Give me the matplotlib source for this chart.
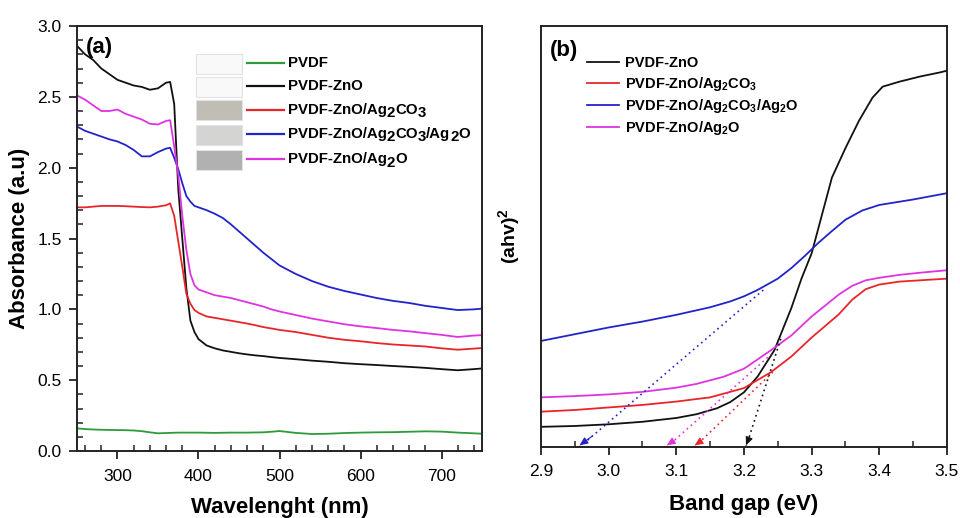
import re
import matplotlib
matplotlib.use("Agg")
import matplotlib.pyplot as plt
from matplotlib.patches import Rectangle
from matplotlib.lines import Line2D
from matplotlib.ticker import MultipleLocator

plt.rcParams['font.family'] = ['Liberation Sans', 'DejaVu Sans']
plt.rcParams['mathtext.fontset'] = 'custom'
plt.rcParams['mathtext.rm'] = 'Liberation Sans:bold'
plt.rcParams['mathtext.it'] = 'Liberation Sans:bold'
plt.rcParams['mathtext.bf'] = 'Liberation Sans:bold'
plt.rcParams['mathtext.default'] = 'rm'

# ---------------- Panel (a) data: UV-vis absorbance ----------------
wl = [250, 260, 270, 280, 290, 300, 310, 320, 330, 340, 350, 360, 365, 370, 375,
      380, 385, 390, 395, 400, 410, 420, 430, 440, 450, 460, 470, 480, 490, 500,
      520, 540, 560, 580, 600, 620, 640, 660, 680, 700, 720, 740, 750]

abs_pvdf = [0.160, 0.155, 0.152, 0.150, 0.149, 0.148, 0.147, 0.145, 0.140, 0.132, 0.125, 0.127, 0.128, 0.129, 0.130,
            0.130, 0.130, 0.130, 0.130, 0.130, 0.129, 0.128, 0.129, 0.130, 0.130, 0.130, 0.131, 0.132, 0.136, 0.141,
            0.128, 0.120, 0.122, 0.127, 0.130, 0.132, 0.133, 0.136, 0.139, 0.137, 0.130, 0.125, 0.122]
abs_zno = [2.86, 2.80, 2.76, 2.70, 2.66, 2.62, 2.60, 2.58, 2.57, 2.55, 2.56, 2.60, 2.605, 2.45, 1.85,
           1.50, 1.15, 0.92, 0.84, 0.79, 0.745, 0.725, 0.710, 0.700, 0.690, 0.682, 0.675, 0.670, 0.663, 0.657,
           0.648, 0.638, 0.630, 0.620, 0.613, 0.607, 0.600, 0.594, 0.587, 0.578, 0.570, 0.578, 0.583]
abs_zno_ag2co3 = [1.72, 1.72, 1.725, 1.73, 1.73, 1.73, 1.728, 1.725, 1.722, 1.72, 1.725, 1.735, 1.748, 1.66, 1.48,
                  1.30, 1.11, 1.04, 0.995, 0.975, 0.950, 0.940, 0.930, 0.920, 0.910, 0.900, 0.888, 0.875, 0.865, 0.855,
                  0.840, 0.820, 0.800, 0.785, 0.775, 0.762, 0.752, 0.745, 0.738, 0.725, 0.715, 0.723, 0.727]
abs_zno_ag2co3_ag2o = [2.29, 2.26, 2.24, 2.22, 2.20, 2.185, 2.16, 2.125, 2.08, 2.08, 2.11, 2.135, 2.14, 2.07, 1.99,
                       1.89, 1.80, 1.76, 1.73, 1.72, 1.70, 1.675, 1.645, 1.60, 1.55, 1.50, 1.45, 1.40, 1.355, 1.31,
                       1.25, 1.20, 1.16, 1.13, 1.105, 1.08, 1.06, 1.045, 1.025, 1.01, 0.995, 1.00, 1.005]
abs_zno_ag2o = [2.51, 2.48, 2.44, 2.40, 2.40, 2.41, 2.38, 2.36, 2.34, 2.31, 2.305, 2.33, 2.335, 2.15, 1.95,
                1.66, 1.42, 1.25, 1.17, 1.14, 1.12, 1.10, 1.09, 1.08, 1.065, 1.05, 1.035, 1.02, 1.00, 0.985,
                0.960, 0.935, 0.915, 0.895, 0.880, 0.868, 0.855, 0.845, 0.832, 0.820, 0.805, 0.815, 0.818]

labels_a = ["PVDF", "PVDF-ZnO", "PVDF-ZnO/Ag$_2$CO$_3$",
            "PVDF-ZnO/Ag$_2$CO$_3$/Ag$_2$O", "PVDF-ZnO/Ag$_2$O"]
colors_a = ["#2e9a3a", "#111111", "#e8262a", "#2323cc", "#e033e0"]
swatch_colors = ["#f9f9f9", "#f9f9f9", "#bfbdb4", "#d4d4d2", "#b1b1b1"]
series_a = [abs_pvdf, abs_zno, abs_zno_ag2co3, abs_zno_ag2co3_ag2o, abs_zno_ag2o]

# ---------------- Panel (b) data: Tauc plot ----------------
e_zno = [2.90, 2.95, 3.00, 3.05, 3.10, 3.13, 3.16, 3.18, 3.20, 3.22, 3.245, 3.27, 3.285, 3.30,
         3.315, 3.33, 3.35, 3.37, 3.39, 3.405, 3.43, 3.46, 3.49, 3.50]
t_zno = [0.048, 0.050, 0.054, 0.060, 0.069, 0.078, 0.092, 0.107, 0.130, 0.167, 0.230, 0.330, 0.400, 0.460,
         0.550, 0.640, 0.710, 0.775, 0.830, 0.856, 0.868, 0.880, 0.890, 0.894]
e_ag2co3 = [2.90, 2.95, 3.00, 3.05, 3.10, 3.15, 3.20, 3.24, 3.27, 3.30, 3.34, 3.36, 3.38, 3.40, 3.43, 3.46, 3.50]
t_ag2co3 = [0.084, 0.088, 0.094, 0.100, 0.108, 0.118, 0.140, 0.178, 0.215, 0.260, 0.315, 0.350, 0.375, 0.386,
            0.393, 0.396, 0.400]
e_ag2co3_ag2o = [2.90, 2.95, 3.00, 3.05, 3.10, 3.15, 3.18, 3.20, 3.22, 3.25, 3.27, 3.29, 3.31, 3.33, 3.35,
                 3.375, 3.40, 3.45, 3.50]
t_ag2co3_ag2o = [0.252, 0.268, 0.284, 0.298, 0.314, 0.332, 0.346, 0.358, 0.373, 0.400, 0.425, 0.454, 0.485,
                 0.513, 0.540, 0.562, 0.575, 0.588, 0.603]
e_ag2o = [2.90, 2.95, 3.00, 3.05, 3.10, 3.13, 3.17, 3.20, 3.24, 3.27, 3.30, 3.34, 3.36, 3.38, 3.40, 3.43, 3.46, 3.50]
t_ag2o = [0.118, 0.121, 0.125, 0.131, 0.141, 0.150, 0.167, 0.186, 0.230, 0.265, 0.310, 0.362, 0.383, 0.396,
          0.402, 0.409, 0.414, 0.420]

labels_b = ["PVDF-ZnO", "PVDF-ZnO/Ag$_2$CO$_3$", "PVDF-ZnO/Ag$_2$CO$_3$/Ag$_2$O", "PVDF-ZnO/Ag$_2$O"]
colors_b = ["#111111", "#e8262a", "#2323cc", "#e033e0"]
series_b = [(e_zno, t_zno), (e_ag2co3, t_ag2co3), (e_ag2co3_ag2o, t_ag2co3_ag2o), (e_ag2o, t_ag2o)]

# Tangent extrapolations: band-gap intercept and upper point on the curve
gap_vals = [3.203, 3.127, 2.957, 3.086]
tangent_top_x = [3.255, 3.244, 3.230, 3.240]
tangent_top_y = [0.260, 0.180, 0.375, 0.220]

fig = plt.figure(figsize=(9.6, 5.18), dpi=100)
axa = fig.add_axes([0.0802, 0.1293, 0.4219, 0.8205])
axb = fig.add_axes([0.5635, 0.1370, 0.4229, 0.8127])

for ax in (axa, axb):
    for s in ax.spines.values():
        s.set_linewidth(1.4)
        s.set_color("#222222")


def chained_label(ax, x, y, label, size, drop=2.2):
    """Write a label whose subscripts are full size and only lowered."""
    parts = re.split(r'\$_(\w+)\$', label)
    prev = ax.text(x, y, parts[0], transform=ax.transAxes, fontsize=size,
                   fontweight='bold', va='center', ha='left')
    lowered = False
    for i, p in enumerate(parts[1:], start=1):
        if p == '':
            continue
        is_sub = (i % 2 == 1)
        dy = 0
        if is_sub and not lowered:
            dy, lowered = -drop, True
        elif not is_sub and lowered:
            dy, lowered = drop, False
        prev = ax.annotate(p, xy=(1, 0), xycoords=prev, xytext=(0, dy),
                           textcoords='offset points', va='bottom', ha='left',
                           fontsize=size, fontweight='bold')


# ---- Panel a ----
for y, c in zip(series_a, colors_a):
    axa.plot(wl, y, color=c, lw=1.3)
axa.set_xlim(250, 750)
axa.set_ylim(0, 3.0)
axa.xaxis.set_major_locator(MultipleLocator(100))
axa.xaxis.set_minor_locator(MultipleLocator(20))
axa.yaxis.set_major_locator(MultipleLocator(0.5))
axa.yaxis.set_minor_locator(MultipleLocator(0.1))
axa.tick_params(which='major', direction='out', length=6, width=1.3, labelsize=12.5,
                color="#222222", pad=5)
axa.tick_params(which='minor', direction='in', length=4, width=1.1, color="#222222")
axa.tick_params(axis='x', which='major', pad=7)
axa.set_xlabel("Wavelenght (nm)", fontsize=16, fontweight='bold', labelpad=9)
axa.set_ylabel("Absorbance (a.u)", fontsize=16, fontweight='bold', labelpad=5)
axa.text(0.022, 0.975, "(a)", transform=axa.transAxes, fontsize=16, fontweight='bold', va='top', ha='left')

# manual legend with sample swatches
row_y = [0.912, 0.858, 0.802, 0.745, 0.686]
for i, (lab, c, sc) in enumerate(zip(labels_a, colors_a, swatch_colors)):
    yc = row_y[i]
    axa.add_patch(Rectangle((0.293, yc - 0.024), 0.114, 0.047, transform=axa.transAxes,
                            facecolor=sc, edgecolor="#e2e2e2", lw=0.8))
    axa.add_line(Line2D([0.420, 0.511], [yc, yc], transform=axa.transAxes, color=c, lw=1.6))
    chained_label(axa, 0.521, yc, lab, 10.8)

# ---- Panel b ----
for (e, t), c in zip(series_b, colors_b):
    axb.plot(e, t, color=c, lw=1.3)
for g, tx, ty, c in zip(gap_vals, tangent_top_x, tangent_top_y, colors_b):
    axb.plot([g, tx], [0.0, ty], color=c, lw=1.2, ls=(0, (1, 2.2)))
    axb.annotate("", xy=(g, 0.004), xytext=(g + (tx - g) * 0.07, ty * 0.07),
                 arrowprops=dict(arrowstyle='-|>,head_length=0.5,head_width=0.22', color=c, lw=0.8,
                                 shrinkA=0, shrinkB=0))
axb.set_xlim(2.9, 3.5)
axb.set_ylim(0, 1.0)
axb.xaxis.set_major_locator(MultipleLocator(0.1))
axb.xaxis.set_minor_locator(MultipleLocator(0.05))
axb.set_yticks([])
axb.tick_params(which='major', direction='out', length=6, width=1.3, labelsize=12.5,
                color="#222222", pad=6)
axb.tick_params(which='minor', direction='in', length=4, width=1.1, color="#222222")
axb.set_xlabel("Band gap (eV)", fontsize=16, fontweight='bold', labelpad=11)
axb.set_ylabel("(ahv)$^2$", fontsize=14, fontweight='bold', labelpad=14)
axb.text(0.022, 0.968, "(b)", transform=axb.transAxes, fontsize=16, fontweight='bold', va='top', ha='left')
leg = axb.legend(labels_b, loc='upper left', bbox_to_anchor=(0.100, 0.942), frameon=False,
                 prop={'weight': 'bold', 'size': 10.5}, handlelength=2.2, handletextpad=0.4,
                 labelspacing=0.3, borderaxespad=0)

fig.savefig("out.png", dpi=100)
